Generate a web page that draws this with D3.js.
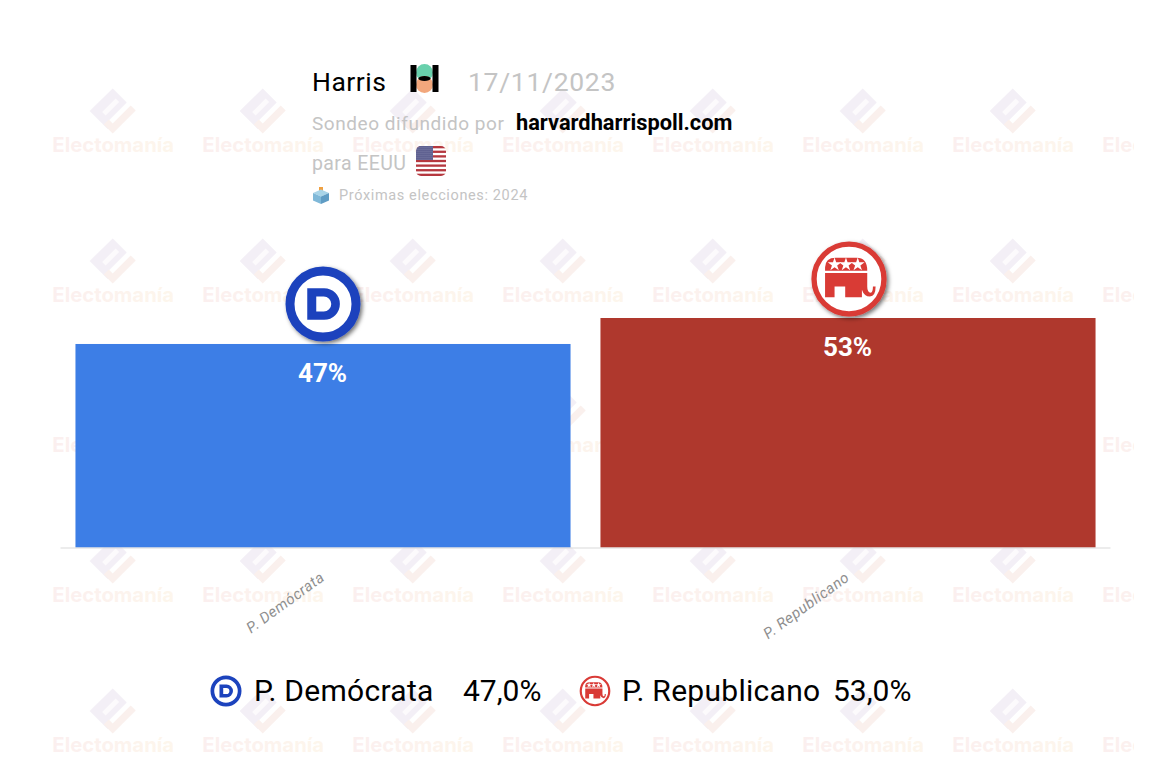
<!DOCTYPE html>
<html>
<head>
<meta charset="utf-8">
<script src="https://cdn.jsdelivr.net/npm/d3@7"></script>
<style>
  html, body { margin: 0; padding: 0; background: #fff; }
  svg { display: block; font-family: Roboto, sans-serif; }
</style>
</head>
<body>
<svg id="chart" width="1158" height="762"></svg>
<script>
// chart values
const parties      = ["P. Demócrata", "P. Republicano"];
const percents     = [47, 53];
const barLabels    = ["47%", "53%"];
const legendValues = ["47,0%", "53,0%"];
const barColors    = ["#3d7ee6", "#af382d"];

const pollster  = "Harris";
const pollDate  = "17/11/2023";
const source    = "harvardharrispoll.com";
const country   = "para EEUU";
const nextVote  = "Próximas elecciones: 2024";

const svg = d3.select("#chart");
const defs = svg.append("defs");

defs.append("clipPath").attr("id", "wm_clip")
    .append("rect").attr("width", 1134).attr("height", 762);

const shadow = defs.append("filter").attr("id", "logo_shadow")
    .attr("x", "-30%").attr("y", "-30%").attr("width", "170%").attr("height", "170%");
shadow.append("feDropShadow")
    .attr("dx", 2).attr("dy", 2).attr("stdDeviation", 2)
    .attr("flood-color", "#000").attr("flood-opacity", 0.55);

const wmGrad = defs.append("linearGradient").attr("id", "wm_text");
wmGrad.append("stop").attr("offset", "0%").attr("stop-color", "#fbefef");
wmGrad.append("stop").attr("offset", "100%").attr("stop-color", "#fdf6ec");

// the watermark tiles, repeated every 150px
const wm = svg.append("g").attr("clip-path", "url(#wm_clip)");
d3.range(5).forEach(row =>
{
    d3.range(8).forEach(col =>
    {
        const tile = wm.append("g")
            .attr("transform", `translate(${112.7 + col * 150},${111 + row * 150})`);

        tile.append("path")
            .attr("d", "M0,-22.5 L14,-8.5 L-7,12.5 L-3,17 L-5,18 L-23,0 Z")
            .attr("fill", "#f3eff6");
        tile.append("path")
            .attr("d", "M-10.5,1 L3,-12.5 L6.5,-9 L-7,4.5 Z")
            .attr("fill", "#fcfafc");
        tile.append("path")
            .attr("d", "M0,22.5 L23,-0.5 L18,-5.5 L0,12.5 L-4,8.5 L-9,13.5 Z")
            .attr("fill", "#faf0ed");

        tile.append("text")
            .attr("x", 0.5)
            .attr("y", 41)
            .attr("text-anchor", "middle")
            .attr("font-family", "Inter, sans-serif")
            .attr("font-size", 20.3)
            .attr("font-weight", 700)
            .attr("fill", "url(#wm_text)")
            .text("Electomanía");
    });
});

// scales
const x = d3.scaleBand()
    .domain(parties)
    .range([60.5, 1110.5])
    .paddingInner(0.057)
    .paddingOuter(0.0285);

const y = d3.scaleLinear()
    .domain([0, 53])
    .range([547.5, 318]);

// bars
svg.selectAll(".bar").data(parties).enter().append("rect")
    .attr("class", "bar")
    .attr("x", d => x(d))
    .attr("y", (d, i) => y(percents[i]))
    .attr("width", x.bandwidth())
    .attr("height", (d, i) => y(0) - y(percents[i]))
    .attr("fill", (d, i) => barColors[i]);

// axis
const axis = svg.append("g")
    .attr("transform", `translate(-0.5,${y(0)})`)
    .call(d3.axisBottom(x).tickSize(0).tickPadding(0));
axis.select(".domain").attr("stroke", "#d9d9d9").attr("stroke-width", 1);
axis.selectAll(".tick text")
    .attr("font-family", "Roboto, sans-serif")
    .attr("font-size", 15)
    .attr("font-style", "italic")
    .attr("letter-spacing", 0.55)
    .attr("fill", "#8f8f8f")
    .attr("text-anchor", "end")
    .attr("dy", 0)
    .attr("transform", "translate(3,32) rotate(-36)");

svg.selectAll(".bar_label").data(parties).enter().append("text")
    .attr("class", "bar_label")
    .attr("x", d => x(d) + x.bandwidth() / 2 - 0.5)
    .attr("y", (d, i) => y(percents[i]) + 38)
    .attr("text-anchor", "middle")
    .attr("font-size", 26)
    .attr("font-weight", 700)
    .attr("fill", "#fff")
    .text((d, i) => barLabels[i]);

// party logos
function demLogo(g, r)
{
    g.append("circle").attr("r", r * 0.88).attr("fill", "#fff")
        .attr("stroke", "#1c43bd").attr("stroke-width", r * 0.24);
    g.append("path")
        .attr("d", "M-0.42,-0.42 H0.03 A0.42,0.42 0 0 1 0.03,0.42 H-0.42 Z M-0.18,-0.2 V0.2 H0.02 A0.2,0.2 0 0 0 0.02,-0.2 Z")
        .attr("transform", `scale(${r})`)
        .attr("fill", "#1c43bd").attr("fill-rule", "evenodd");
}

function repLogo(g, r)
{
    g.append("circle").attr("r", r * 0.92).attr("fill", "#fff")
        .attr("stroke", "#d93a36").attr("stroke-width", r * 0.14);
    // upper part of the elephant
    g.append("path")
        .attr("d", "M-0.63,-0.22 V-0.3 Q-0.63,-0.56 -0.35,-0.56 H0.2 Q0.48,-0.56 0.48,-0.22 Z")
        .attr("transform", `scale(${r})`).attr("fill", "#d93a36");
    // lower part with the legs and trunk
    g.append("path")
        .attr("d", "M-0.63,-0.16 H0.48 V0.2 Q0.48,0.36 0.57,0.36 Q0.63,0.36 0.63,0.2 H0.7 Q0.7,0.46 0.55,0.46 Q0.4,0.46 0.34,0.28 V0.48 H-0.1 V0.2 H-0.38 V0.48 H-0.63 Z")
        .attr("transform", `scale(${r})`).attr("fill", "#d93a36");
    [-0.38, -0.08, 0.23].forEach(sx =>
    {
        g.append("path")
            .attr("d", d3.symbol().type(d3.symbolStar).size(0.04)())
            .attr("transform", `scale(${r}) translate(${sx},-0.38)`)
            .attr("fill", "#fff");
    });
}

const logoDem = svg.append("g").attr("transform", "translate(323,304)").attr("filter", "url(#logo_shadow)");
demLogo(logoDem, 37.5);
const logoRep = svg.append("g").attr("transform", "translate(849,279)").attr("filter", "url(#logo_shadow)");
repLogo(logoRep, 38);

// header
const txt = (px, py, size, fill, str, weight) => svg.append("text")
    .attr("x", px).attr("y", py)
    .attr("font-size", size)
    .attr("font-weight", weight || 400)
    .attr("fill", fill)
    .text(str);

txt(312, 90.5, 26.5, "#000", pollster).attr("letter-spacing", 0.5);
txt(468, 90.5, 26.5, "#c4c4c4", pollDate).attr("letter-spacing", 0.7);
txt(312, 130, 19, "#c4c4c4", "Sondeo difundido por").attr("letter-spacing", 0.55);
txt(516, 130, 21.8, "#000", source, 700);
txt(312, 169.5, 19.5, "#c4c4c4", country).attr("letter-spacing", 0.4);
txt(339, 200, 14.5, "#c4c4c4", nextVote).attr("letter-spacing", 0.63);

// pollster mark
const pm = svg.append("g").attr("transform", "translate(424.5,78.5)");
pm.append("circle").attr("cy", -6).attr("r", 8.5).attr("fill", "#68d0ac");
pm.append("circle").attr("cy", 6).attr("r", 8.5).attr("fill", "#f2a77c");
pm.append("ellipse").attr("rx", 6).attr("ry", 2.5).attr("fill", "#000");
pm.append("rect").attr("x", -14).attr("y", -13.5).attr("width", 6).attr("height", 27).attr("fill", "#000");
pm.append("rect").attr("x", 8).attr("y", -13.5).attr("width", 6).attr("height", 27).attr("fill", "#000");

// flag
defs.append("clipPath").attr("id", "flag_clip")
    .append("rect").attr("x", 416).attr("y", 146).attr("width", 30).attr("height", 30).attr("rx", 5);
const stars = defs.append("pattern").attr("id", "flag_stars")
    .attr("patternUnits", "userSpaceOnUse").attr("width", 2).attr("height", 2);
stars.append("rect").attr("width", 2).attr("height", 2).attr("fill", "#474a80");
stars.append("circle").attr("cx", 1).attr("cy", 1).attr("r", 0.6).attr("fill", "#c9cadd");
const flag = svg.append("g").attr("clip-path", "url(#flag_clip)");
flag.append("rect").attr("x", 416).attr("y", 146).attr("width", 30).attr("height", 30).attr("fill", "#fff");
d3.range(7).forEach(i =>
{
    flag.append("rect").attr("x", 416).attr("y", 146 + i * 30 / 6.5)
        .attr("width", 30).attr("height", 30 / 13).attr("fill", "#b5383f");
});
flag.append("rect").attr("x", 416).attr("y", 146).attr("width", 17).attr("height", 14).attr("fill", "url(#flag_stars)");

// ballot box
const box = svg.append("g").attr("transform", "translate(321,196)");
box.append("rect").attr("x", -2).attr("y", -9).attr("width", 4).attr("height", 6).attr("fill", "#f0a040");
box.append("path").attr("d", "M-8,-3 L0,-6.5 L8,-3 L0,0.5 Z").attr("fill", "#a8d4e8");
box.append("path").attr("d", "M-8,-3 L0,0.5 V8 L-8,4.5 Z").attr("fill", "#7fb8d8");
box.append("path").attr("d", "M8,-3 L0,0.5 V8 L8,4.5 Z").attr("fill", "#5f9cc4");

// legend
const legendX     = [254, 622];
const legendValX  = [463, 833];
const legendIconX = [226, 595];

parties.forEach((p, i) =>
{
    txt(legendX[i], 701, 30, "#000", p).attr("letter-spacing", 0.28);
    txt(legendValX[i], 701, 30, "#000", legendValues[i]);
    const icon = svg.append("g").attr("transform", `translate(${legendIconX[i]},691)`);
    (i === 0 ? demLogo : repLogo)(icon, 15.5);
});
</script>
</body>
</html>
